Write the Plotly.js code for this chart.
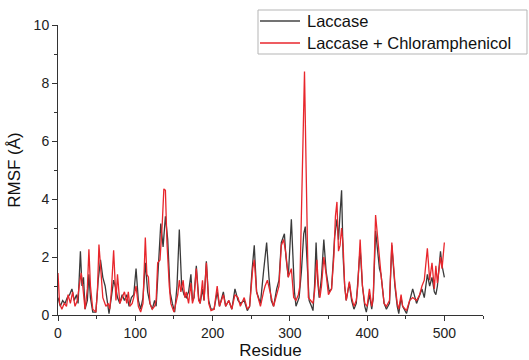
<!DOCTYPE html>
<html>
<head>
<meta charset="utf-8">
<script src="https://cdn.plot.ly/plotly-3.0.1.min.js"></script>
<style>html,body{margin:0;padding:0;background:#fff;}#chart{width:529px;height:360px;}</style>
</head>
<body>
<div id="chart"></div>
<script>
// Laccase (black)
const resLaccase = [0,3,6,9,12,15,18,21,24,26,29,31,33,35,38,40,42,45,49,52,55,58,61,64,66,69,72,75,77,80,83,86,89,92,95,98,101,104,107,110,113,116,119,122,125,127,130,133,136,139,142,145,148,151,154,157,160,163,166,169,172,174,176,179,182,184,187,189,192,195,198,202,206,209,214,217,221,225,229,233,236,241,245,248,251,254,257,262,266,270,273,276,279,283,286,289,293,295,298,302,306,308,312,315,318,320,322,325,328,330,332,334,336,338,341,344,347,351,354,358,361,363,365,367,369,371,373,377,380,383,386,389,391,394,397,399,403,406,408,411,414,416,418,422,425,429,432,436,439,441,444,446,451,455,459,464,468,471,474,478,481,484,487,489,491,495,497,500];
const rmsfLaccase = [0.6,0.3,0.5,0.4,0.6,0.7,0.9,0.5,0.7,0.4,2.2,1.0,1.3,0.2,0.5,1.4,0.6,0.1,0.1,1.2,1.9,1.3,1.0,0.4,0.05,0.6,1.2,0.9,0.6,0.4,0.7,0.5,0.7,0.3,0.6,0.7,1.6,0.5,0.2,0.6,1.8,0.8,0.4,0.2,0.5,0.3,1.8,3.15,2.35,3.4,2.6,0.8,0.4,0.1,1.0,2.95,1.0,0.7,0.6,0.8,1.4,0.5,0.6,1.7,0.6,0.4,0.9,0.5,1.85,0.5,0.2,0.2,0.8,0.3,0.8,0.3,0.5,0.2,0.9,0.5,0.4,0.5,0.15,0.3,1.5,2.4,0.8,0.4,1.5,2.5,1.3,0.5,0.3,0.9,1.2,2.5,2.8,2.0,1.3,3.3,0.8,0.3,0.6,1.5,2.8,3.05,2.0,0.5,0.3,0.15,1.0,2.5,1.2,0.6,1.3,2.6,1.5,0.8,0.9,2.7,3.3,2.6,3.5,4.3,2.0,1.0,0.5,1.1,0.5,0.2,0.4,1.4,2.3,1.0,0.3,0.1,0.7,0.2,0.6,2.9,2.0,1.6,1.4,0.4,0.2,0.4,2.4,1.0,0.3,0.05,0.6,0.3,0.05,0.5,0.9,0.4,0.7,0.9,0.6,1.4,1.0,1.3,0.8,0.7,1.0,2.2,1.7,1.3];

// Laccase + Chloramphenicol (red)
const resComplex = [0,2,5,8,11,13,16,19,22,25,27,30,32,35,38,40,42,45,49,51,53,55,58,62,65,67,69,72,74,75,77,80,83,86,89,91,93,96,98,101,104,107,110,113,115,117,119,122,125,127,129,132,135,137,139,141,144,146,150,153,155,157,159,162,164,166,169,172,174,176,179,182,184,187,189,192,195,198,202,206,209,214,217,221,225,229,233,236,241,245,248,252,254,257,262,266,268,271,274,277,279,283,286,289,292,295,298,302,305,308,311,313,316,319,321,324,327,330,332,335,337,339,341,344,347,350,354,357,359,361,363,365,367,369,371,373,377,380,383,386,388,391,394,397,400,403,406,408,411,413,416,418,422,425,429,432,436,439,441,444,446,451,455,459,464,468,471,474,478,481,484,487,489,491,495,497,500];
const rmsfComplex = [1.45,0.4,0.2,0.4,0.3,0.7,0.4,0.8,0.3,0.5,0.9,1.45,1.0,0.2,0.9,2.27,1.0,0.2,0.1,0.8,2.43,1.8,0.6,0.3,0.4,0.2,0.8,2.23,0.8,0.5,1.4,0.4,0.6,0.8,0.4,0.8,0.3,0.4,0.6,1.0,0.3,0.1,0.4,2.67,1.4,1.3,0.4,0.2,0.3,0.5,1.8,1.9,3.2,4.35,4.3,2.5,1.0,0.4,0.1,0.5,0.7,1.2,0.8,1.2,0.6,0.8,0.4,1.1,0.4,0.6,1.6,0.5,0.4,1.2,0.5,1.8,0.4,0.15,0.2,1.0,0.3,0.7,0.3,0.5,0.2,0.7,0.6,0.3,0.6,0.2,0.3,1.6,1.9,0.8,0.3,0.8,1.0,1.2,0.9,0.5,0.3,0.7,1.0,2.4,2.6,2.1,1.3,1.6,0.6,0.5,0.7,1.0,5.0,8.4,5.2,0.6,0.5,0.4,0.8,1.9,1.0,0.6,1.0,2.0,1.4,0.7,0.9,2.0,3.4,3.9,2.2,2.4,3.0,2.4,1.0,0.5,1.15,0.6,0.3,0.5,1.0,2.6,1.0,0.4,0.3,0.9,0.3,0.6,3.45,2.8,1.8,1.4,0.4,0.3,0.5,2.5,1.1,0.4,0.2,0.7,0.3,0.15,0.5,0.6,0.5,0.7,1.0,1.2,2.3,1.2,1.8,0.9,1.7,1.1,2.0,1.6,2.5];

const seriesNames = ["Laccase", "Laccase + Chloramphenicol"];
const seriesColors = ["#444444", "#e8262c"];
const xTitle = "Residue";
const yTitle = "RMSF (Å)";

const font = "Arial, 'Liberation Sans', sans-serif";

const traces = [
  {x: resLaccase, y: rmsfLaccase, name: seriesNames[0], type: "scatter", mode: "lines",
   line: {color: "#3a3a3a", width: 1.3}},
  {x: resComplex, y: rmsfComplex, name: seriesNames[1], type: "scatter", mode: "lines",
   line: {color: seriesColors[1], width: 1.3}}
];

// compact boxed legend (paper coordinates)
const legBox = {x0: 0.4706, x1: 1.1035, y0: 0.9, y1: 1.0517};
const legRows = [1.0138, 0.9379];
const legLine = [0.4753, 0.5694];
const legText = 0.5835;

const shapes = [
  {type: "rect", xref: "paper", yref: "paper", x0: legBox.x0, x1: legBox.x1, y0: legBox.y0, y1: legBox.y1,
   line: {color: "#b5b5b5", width: 1}, fillcolor: "#fff", layer: "above"}
];
const annotations = [];
seriesNames.forEach((n, i) => {
  shapes.push({type: "line", xref: "paper", yref: "paper", x0: legLine[0], x1: legLine[1],
    y0: legRows[i], y1: legRows[i], line: {color: seriesColors[i], width: 1.3}, layer: "above"});
  annotations.push({xref: "paper", yref: "paper", x: legText, y: legRows[i], text: n,
    xanchor: "left", yanchor: "middle", showarrow: false, borderpad: 0,
    font: {family: font, size: 16.5, color: "#111"}});
});

const layout = {
  width: 529, height: 360,
  margin: {l: 58, r: 46, t: 25, b: 45},
  paper_bgcolor: "#fff", plot_bgcolor: "#fff",
  font: {family: font, size: 14, color: "#222"},
  showlegend: false,
  shapes: shapes,
  annotations: annotations,
  xaxis: {range: [0, 550], showgrid: false, zeroline: false,
    showline: true, linecolor: "#333", linewidth: 1,
    ticks: "outside", ticklen: 5, tickcolor: "#333", dtick: 100, tick0: 0,
    minor: {dtick: 50, ticks: "outside", ticklen: 3, tickcolor: "#333"},
    tickfont: {family: font, size: 14, color: "#222"},
    title: {text: xTitle, font: {family: font, size: 17, color: "#111"}, standoff: 4}},
  yaxis: {range: [0, 10], showgrid: false, zeroline: false,
    showline: true, linecolor: "#333", linewidth: 1,
    ticks: "outside", ticklen: 5, tickcolor: "#333", dtick: 2, tick0: 0,
    minor: {dtick: 1, ticks: "outside", ticklen: 3, tickcolor: "#333"},
    tickfont: {family: font, size: 14, color: "#222"},
    title: {text: yTitle, font: {family: font, size: 17, color: "#111"}, standoff: 8}}
};

Plotly.newPlot("chart", traces, layout, {staticPlot: true, displayModeBar: false});
</script>
</body>
</html>
